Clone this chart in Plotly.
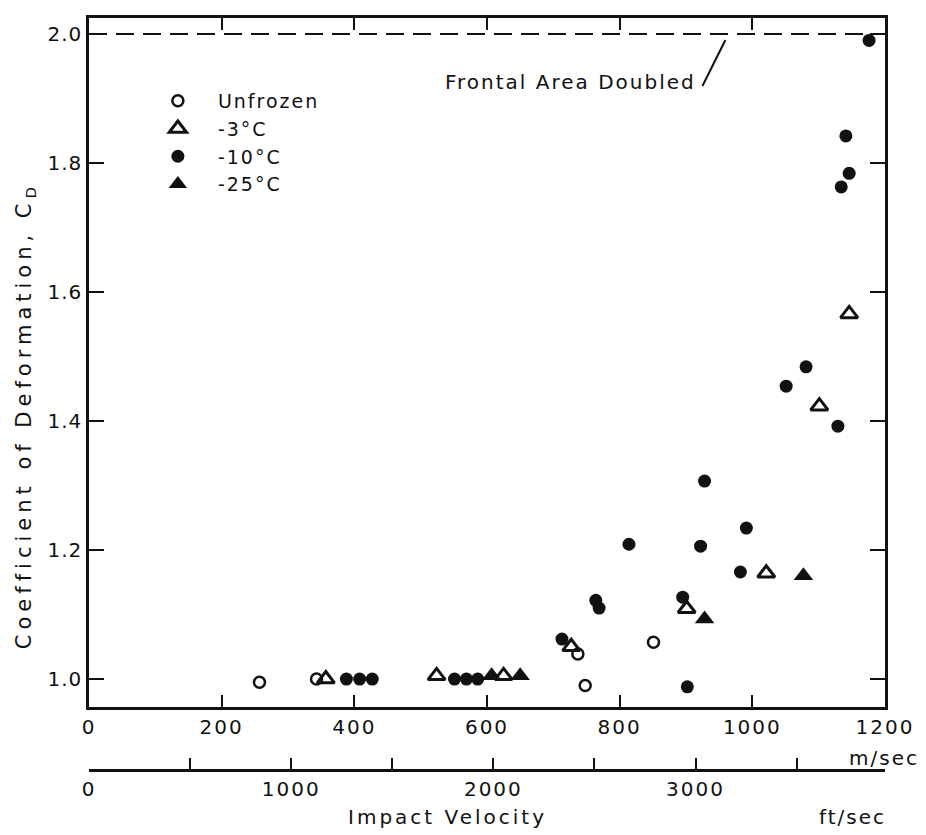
import plotly.graph_objects as go

# ---- data ----
unfrozen_v = [257, 343, 737, 748, 851]
unfrozen_cd = [0.995, 1.0, 1.039, 0.99, 1.057]

m3_v = [357, 524, 625, 727, 901, 1021, 1101, 1146]
m3_cd = [1.0, 1.005, 1.005, 1.05, 1.109, 1.164, 1.423, 1.566]

m10_v = [388, 408, 427, 551, 569, 586, 713, 764, 769, 814, 895, 902, 922, 928,
         982, 991, 1051, 1081, 1129, 1134, 1141, 1146, 1176]
m10_cd = [1.0, 1.0, 1.0, 1.0, 1.0, 1.0, 1.062, 1.122, 1.11, 1.209, 1.127, 0.988,
          1.206, 1.307, 1.166, 1.234, 1.454, 1.484, 1.392, 1.763, 1.842, 1.784, 1.99]

m25_v = [607, 650, 928, 1077]
m25_cd = [1.005, 1.005, 1.093, 1.16]

frontal_level = 2.0
frontal_v = [0, 1180]

x_ticks = [0, 200, 400, 600, 800, 1000, 1200]
y_ticks = [1.0, 1.2, 1.4, 1.6, 1.8, 2.0]
ft_ticks = [0, 1000, 2000, 3000]
ft_minor = [500, 1500, 2500, 3500]
M_PER_FT = 0.3048

FONT = "DejaVu Sans"
BLACK = "#111111"

# layout geometry (pixels)
L, R, T, B = 89, 887, 18, 770
W, H = 926, 835
PW, PH = R - L, B - T
main_bottom = 707


def px(x):
    return (x - L) / PW


def py(y):
    return (B - y) / PH


def spaced(s, sp):
    return f"<span style='letter-spacing:{sp}px'>{s}</span>"


fig = go.Figure()

fig.add_trace(go.Scatter(
    x=frontal_v, y=[frontal_level] * len(frontal_v), mode="lines",
    line=dict(color=BLACK, width=2, dash="18px,9px"), showlegend=False,
    hoverinfo="skip"))

fig.add_trace(go.Scatter(
    x=unfrozen_v, y=unfrozen_cd, mode="markers", name=spaced("Unfrozen", 2),
    marker=dict(symbol="circle-open", size=11, color=BLACK, line=dict(width=2.5, color=BLACK))))
fig.add_trace(go.Scatter(
    x=m3_v, y=m3_cd, mode="markers", name=spaced("-3°C", 2),
    marker=dict(symbol="triangle-up-open", size=15, color=BLACK, line=dict(width=3, color=BLACK))))
fig.add_trace(go.Scatter(
    x=m10_v, y=m10_cd, mode="markers", name=spaced("-10°C", 2),
    marker=dict(symbol="circle", size=13, color=BLACK)))
fig.add_trace(go.Scatter(
    x=m25_v, y=m25_cd, mode="markers", name=spaced("-25°C", 2),
    marker=dict(symbol="triangle-up", size=17, color=BLACK)))

# empty trace so the ft/sec axis is drawn
fig.add_trace(go.Scatter(x=[], y=[], xaxis="x2", yaxis="y", showlegend=False,
                         hoverinfo="skip"))

axis_common = dict(showgrid=False, zeroline=False, showline=True, linecolor=BLACK,
                   linewidth=2.5, ticks="inside", tickcolor=BLACK, tickwidth=2,
                   tickfont=dict(family=FONT, size=20, color=BLACK))

fig.update_layout(
    width=W, height=H,
    margin=dict(l=L, r=W - R, t=T, b=H - B),
    paper_bgcolor="white", plot_bgcolor="white",
    font=dict(family=FONT, color=BLACK),
    xaxis=dict(range=[0, 1200], tickvals=x_ticks,
               ticktext=[spaced(str(v), 2) for v in x_ticks],
               ticklen=12, mirror="ticks", **axis_common),
    yaxis=dict(range=[0.9567, 2.0248], tickvals=y_ticks,
               ticktext=[spaced(f"{v:.1f}", 1) for v in y_ticks],
               ticklen=15, mirror="ticks", domain=[py(main_bottom), 1],
               **axis_common),
    xaxis2=dict(range=[0, 1200 / M_PER_FT], overlaying="x", anchor="free",
                position=0, side="bottom", tickvals=ft_ticks,
                ticktext=[spaced(str(t), 2) for t in ft_ticks],
                minor=dict(tickvals=ft_minor, ticks="inside", ticklen=11,
                           tickwidth=2, tickcolor=BLACK),
                ticklen=11, **axis_common),
    legend=dict(x=px(138), y=py(82), xanchor="left", yanchor="top",
                bgcolor="rgba(0,0,0,0)", font=dict(family=FONT, size=19, color=BLACK),
                tracegroupgap=0, itemwidth=70),
    showlegend=True,
)

ann_font = dict(family=FONT, size=20, color=BLACK)
fig.add_annotation(text=spaced("Frontal Area Doubled", 2), xref="paper", yref="paper",
                   x=px(700), y=py(82), xanchor="right", yanchor="middle",
                   showarrow=False, font=ann_font)
# leader from the label to the dashed line
fig.add_shape(type="line", xref="paper", yref="paper",
              x0=px(704), y0=py(86), x1=px(727), y1=py(40),
              line=dict(color=BLACK, width=2))
fig.add_annotation(text=spaced("m/sec", 2), xref="paper", yref="paper", x=px(923), y=py(758),
                   xanchor="right", yanchor="middle", showarrow=False, font=ann_font)
fig.add_annotation(text=spaced("Impact Velocity", 3), xref="paper", yref="paper", x=px(448),
                   y=py(817), xanchor="center", yanchor="middle", showarrow=False,
                   font=ann_font)
fig.add_annotation(text=spaced("ft/sec", 2), xref="paper", yref="paper", x=px(890), y=py(817),
                   xanchor="right", yanchor="middle", showarrow=False, font=ann_font)
fig.add_annotation(text=spaced("Coefficient of Deformation, C", 5) + "<sub>D</sub>",
                   xref="paper", yref="paper", x=px(25), y=py(418), xanchor="center",
                   yanchor="middle", textangle=-90, showarrow=False,
                   font=dict(family=FONT, size=21, color=BLACK))

fig.write_html("out.html")
